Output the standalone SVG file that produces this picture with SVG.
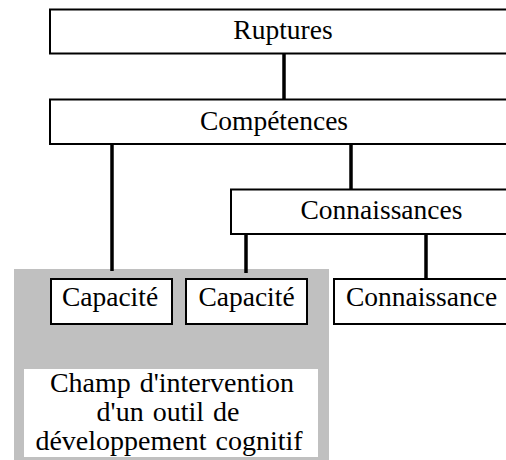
<svg xmlns="http://www.w3.org/2000/svg" width="506" height="460" viewBox="0 0 506 460">
<style>
.box{fill:#fff;stroke:#000;stroke-width:2}
text{font-family:'Liberation Serif','Times New Roman',Tinos,serif;font-size:27.5px;fill:#000;text-anchor:middle}
.champ{font-size:28px;word-spacing:2px}
.c{stroke:#000;stroke-width:3.5;fill:none}
</style>
<rect width="506" height="460" fill="#fff"/>
<g id="zone">
<rect x="14" y="269" width="315" height="195" fill="#c0c0c0"/>
<rect x="24" y="369" width="294" height="88" fill="#fff"/>
<text class="champ" x="172" y="392">Champ d'intervention</text>
<text class="champ" x="168" y="421">d'un outil de</text>
<text class="champ" x="169" y="450">développement cognitif</text>
</g>
<g id="connectors">
<line class="c" x1="284" y1="54" x2="284" y2="99"/>
<line class="c" x1="112" y1="144" x2="112" y2="271"/>
<line class="c" x1="351" y1="144" x2="351" y2="189"/>
<line class="c" x1="246" y1="234" x2="246" y2="273"/>
<line class="c" x1="426" y1="234" x2="426" y2="279"/>
</g>
<g id="ruptures">
<rect class="box" x="50" y="9.5" width="470" height="44"/>
<text x="283" y="39">Ruptures</text>
</g>
<g id="competences">
<rect class="box" x="50" y="99.5" width="470" height="44.5"/>
<text x="274" y="130">Compétences</text>
</g>
<g id="connaissances">
<rect class="box" x="231" y="189.5" width="290" height="44.5"/>
<text x="381.5" y="219">Connaissances</text>
</g>
<g id="capacite1">
<rect class="box" x="51" y="279" width="121" height="45"/>
<text x="110" y="306">Capacité</text>
</g>
<g id="capacite2">
<rect class="box" x="186" y="279" width="121" height="45"/>
<text x="246.5" y="306">Capacité</text>
</g>
<g id="connaissance">
<rect class="box" x="334" y="279" width="190" height="45"/>
<text x="421.5" y="306">Connaissance</text>
</g>
</svg>
